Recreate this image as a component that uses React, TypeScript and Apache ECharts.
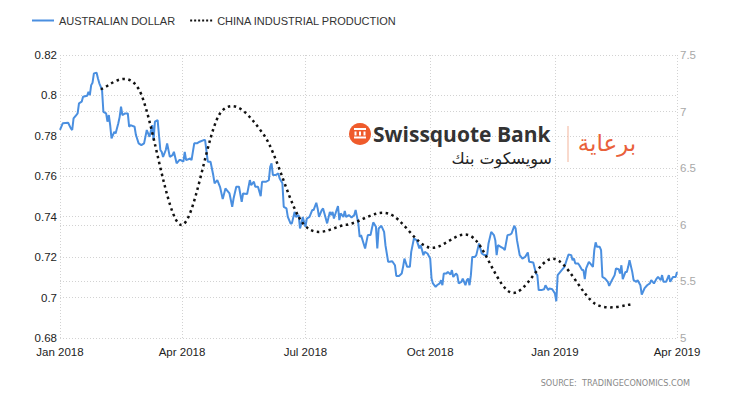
import React, { useEffect, useRef } from "react";
import * as echarts from "echarts";

const FONT = "Liberation Sans, Arial, sans-serif";

// Australian dollar (left axis)
const audDaily: [string, number][] = [
  ["2018-01-01", 0.7829], ["2018-01-03", 0.7862], ["2018-01-07", 0.7865], ["2018-01-09", 0.7837], ["2018-01-10", 0.7829],
  ["2018-01-11", 0.7886], ["2018-01-13", 0.7903], ["2018-01-14", 0.7911], ["2018-01-15", 0.7961], ["2018-01-17", 0.7969],
  ["2018-01-18", 0.7993], ["2018-01-21", 0.7998], ["2018-01-22", 0.8018], ["2018-01-23", 0.8002], ["2018-01-24", 0.8051],
  ["2018-01-25", 0.8063], ["2018-01-26", 0.8109], ["2018-01-28", 0.8112], ["2018-01-29", 0.8084], ["2018-01-30", 0.806],
  ["2018-02-01", 0.8027], ["2018-02-02", 0.7919], ["2018-02-04", 0.7911], ["2018-02-05", 0.787], ["2018-02-06", 0.7903],
  ["2018-02-07", 0.7853], ["2018-02-08", 0.7787], ["2018-02-10", 0.782], ["2018-02-11", 0.7812], ["2018-02-13", 0.7862],
  ["2018-02-14", 0.7894], ["2018-02-15", 0.7944], ["2018-02-16", 0.7903], ["2018-02-18", 0.7911], ["2018-02-20", 0.7911],
  ["2018-02-21", 0.7845], ["2018-02-22", 0.7853], ["2018-02-25", 0.7845], ["2018-02-26", 0.7804], ["2018-02-28", 0.7763],
  ["2018-03-02", 0.7754], ["2018-03-04", 0.7763], ["2018-03-06", 0.7829], ["2018-03-08", 0.7795], ["2018-03-10", 0.7853],
  ["2018-03-11", 0.7779], ["2018-03-12", 0.787], ["2018-03-14", 0.7878], ["2018-03-16", 0.773], ["2018-03-17", 0.7721],
  ["2018-03-18", 0.7696], ["2018-03-20", 0.773], ["2018-03-21", 0.7763], ["2018-03-23", 0.7696], ["2018-03-25", 0.7705],
  ["2018-03-26", 0.7721], ["2018-03-28", 0.7664], ["2018-03-30", 0.768], ["2018-03-31", 0.768], ["2018-04-02", 0.7672],
  ["2018-04-03", 0.7721], ["2018-04-04", 0.768], ["2018-04-07", 0.7688], ["2018-04-08", 0.768], ["2018-04-10", 0.7763],
  ["2018-04-12", 0.7763], ["2018-04-14", 0.7771], ["2018-04-17", 0.7779], ["2018-04-18", 0.7779], ["2018-04-20", 0.7672],
  ["2018-04-22", 0.7672], ["2018-04-24", 0.7606], ["2018-04-25", 0.7565], ["2018-04-27", 0.7581], ["2018-04-29", 0.7548],
  ["2018-05-01", 0.7487], ["2018-05-03", 0.754], ["2018-05-04", 0.7532], ["2018-05-06", 0.7515], ["2018-05-08", 0.7449],
  ["2018-05-09", 0.749], ["2018-05-11", 0.7548], ["2018-05-13", 0.7548], ["2018-05-15", 0.7474], ["2018-05-16", 0.7515],
  ["2018-05-19", 0.7512], ["2018-05-21", 0.7581], ["2018-05-22", 0.7556], ["2018-05-24", 0.7573], ["2018-05-25", 0.7548],
  ["2018-05-27", 0.7548], ["2018-05-29", 0.7502], ["2018-05-30", 0.7573], ["2018-06-02", 0.7573], ["2018-06-04", 0.7581],
  ["2018-06-05", 0.7647], ["2018-06-06", 0.7664], ["2018-06-07", 0.7606], ["2018-06-09", 0.7606], ["2018-06-11", 0.7614],
  ["2018-06-12", 0.7589], ["2018-06-14", 0.7565], ["2018-06-15", 0.7449], ["2018-06-17", 0.7441], ["2018-06-18", 0.7399],
  ["2018-06-20", 0.7367], ["2018-06-21", 0.7367], ["2018-06-23", 0.7424], ["2018-06-24", 0.7399], ["2018-06-26", 0.7408],
  ["2018-06-27", 0.7342], ["2018-06-28", 0.7367], ["2018-06-29", 0.7399], ["2018-07-01", 0.735], ["2018-07-02", 0.7391],
  ["2018-07-04", 0.7399], ["2018-07-06", 0.7433], ["2018-07-07", 0.7433], ["2018-07-09", 0.7469], ["2018-07-10", 0.7441],
  ["2018-07-11", 0.7399], ["2018-07-13", 0.7433], ["2018-07-14", 0.7441], ["2018-07-15", 0.7416], ["2018-07-17", 0.7367],
  ["2018-07-19", 0.7424], ["2018-07-20", 0.7408], ["2018-07-21", 0.7424], ["2018-07-22", 0.7391], ["2018-07-24", 0.7433],
  ["2018-07-25", 0.7452], ["2018-07-26", 0.7383], ["2018-07-27", 0.7416], ["2018-07-29", 0.7399], ["2018-07-30", 0.7429],
  ["2018-07-31", 0.7399], ["2018-08-02", 0.7408], ["2018-08-04", 0.7396], ["2018-08-06", 0.7408], ["2018-08-07", 0.7433],
  ["2018-08-09", 0.7367], ["2018-08-10", 0.73], ["2018-08-11", 0.7309], ["2018-08-14", 0.7243], ["2018-08-16", 0.7309],
  ["2018-08-18", 0.7309], ["2018-08-19", 0.7342], ["2018-08-20", 0.7372], ["2018-08-22", 0.735], ["2018-08-23", 0.7243],
  ["2018-08-24", 0.7342], ["2018-08-26", 0.7355], ["2018-08-28", 0.7325], ["2018-08-29", 0.7259], ["2018-08-31", 0.7177],
  ["2018-09-01", 0.7177], ["2018-09-03", 0.718], ["2018-09-05", 0.716], ["2018-09-06", 0.7107], ["2018-09-08", 0.7107],
  ["2018-09-10", 0.7119], ["2018-09-11", 0.7152], ["2018-09-12", 0.7193], ["2018-09-14", 0.7152], ["2018-09-16", 0.7152],
  ["2018-09-17", 0.7226], ["2018-09-19", 0.7292], ["2018-09-21", 0.7284], ["2018-09-23", 0.7243], ["2018-09-24", 0.7259],
  ["2018-09-26", 0.721], ["2018-09-27", 0.7226], ["2018-09-29", 0.7218], ["2018-10-01", 0.7193], ["2018-10-02", 0.7094],
  ["2018-10-03", 0.707], ["2018-10-05", 0.7053], ["2018-10-06", 0.7061], ["2018-10-08", 0.707], ["2018-10-09", 0.7086],
  ["2018-10-10", 0.7061], ["2018-10-11", 0.7119], ["2018-10-13", 0.7119], ["2018-10-14", 0.7127], ["2018-10-16", 0.7114],
  ["2018-10-17", 0.7136], ["2018-10-18", 0.7102], ["2018-10-20", 0.7119], ["2018-10-21", 0.7111], ["2018-10-22", 0.707],
  ["2018-10-24", 0.7078], ["2018-10-25", 0.7094], ["2018-10-27", 0.7061], ["2018-10-28", 0.7086], ["2018-10-29", 0.7094],
  ["2018-10-30", 0.7061], ["2018-10-31", 0.7111], ["2018-11-01", 0.7201], ["2018-11-03", 0.7201], ["2018-11-04", 0.721],
  ["2018-11-06", 0.7268], ["2018-11-07", 0.7243], ["2018-11-08", 0.7218], ["2018-11-10", 0.721], ["2018-11-12", 0.721],
  ["2018-11-13", 0.7268], ["2018-11-15", 0.7325], ["2018-11-17", 0.7309], ["2018-11-18", 0.7284], ["2018-11-19", 0.721],
  ["2018-11-20", 0.7259], ["2018-11-22", 0.7251], ["2018-11-24", 0.7243], ["2018-11-25", 0.7235], ["2018-11-27", 0.7309],
  ["2018-11-29", 0.7312], ["2018-11-30", 0.7317], ["2018-12-02", 0.7355], ["2018-12-03", 0.7342], ["2018-12-04", 0.7284],
  ["2018-12-06", 0.721], ["2018-12-08", 0.7193], ["2018-12-10", 0.7201], ["2018-12-12", 0.7223], ["2018-12-13", 0.7177],
  ["2018-12-16", 0.7174], ["2018-12-18", 0.7119], ["2018-12-19", 0.7111], ["2018-12-20", 0.7037], ["2018-12-22", 0.7037],
  ["2018-12-24", 0.7041], ["2018-12-25", 0.7061], ["2018-12-27", 0.7037], ["2018-12-28", 0.7045], ["2018-12-30", 0.7041],
  ["2019-01-01", 0.702], ["2019-01-02", 0.6982], ["2019-01-03", 0.7111], ["2019-01-06", 0.7136], ["2019-01-08", 0.7152],
  ["2019-01-10", 0.7193], ["2019-01-11", 0.7213], ["2019-01-13", 0.721], ["2019-01-14", 0.7185], ["2019-01-15", 0.7193],
  ["2019-01-16", 0.7169], ["2019-01-18", 0.7169], ["2019-01-19", 0.716], ["2019-01-21", 0.7136], ["2019-01-22", 0.7136],
  ["2019-01-23", 0.7091], ["2019-01-24", 0.7144], ["2019-01-26", 0.7177], ["2019-01-27", 0.7169], ["2019-01-29", 0.7152],
  ["2019-01-30", 0.7235], ["2019-01-31", 0.7273], ["2019-02-01", 0.7251], ["2019-02-03", 0.7251], ["2019-02-04", 0.7235],
  ["2019-02-05", 0.7102], ["2019-02-07", 0.7094], ["2019-02-09", 0.7078], ["2019-02-10", 0.7058], ["2019-02-12", 0.7086],
  ["2019-02-14", 0.7111], ["2019-02-15", 0.7144], ["2019-02-17", 0.714], ["2019-02-18", 0.7119], ["2019-02-19", 0.716],
  ["2019-02-20", 0.7091], ["2019-02-22", 0.7127], ["2019-02-23", 0.7127], ["2019-02-24", 0.7152], ["2019-02-25", 0.7185],
  ["2019-02-27", 0.7127], ["2019-02-28", 0.7086], ["2019-03-02", 0.7078], ["2019-03-03", 0.7086], ["2019-03-05", 0.7061],
  ["2019-03-06", 0.7015], ["2019-03-08", 0.7045], ["2019-03-10", 0.7061], ["2019-03-12", 0.707], ["2019-03-13", 0.7086],
  ["2019-03-15", 0.707], ["2019-03-17", 0.7094], ["2019-03-18", 0.7102], ["2019-03-20", 0.7086], ["2019-03-21", 0.7111],
  ["2019-03-22", 0.7078], ["2019-03-24", 0.7078], ["2019-03-26", 0.7111], ["2019-03-27", 0.7078], ["2019-03-29", 0.7102],
  ["2019-03-31", 0.7102], ["2019-04-01", 0.7127],
];

// China industrial production, % YoY (right axis)
const ipDates = [
  "2018-01-31", "2018-02-28", "2018-03-31", "2018-04-30", "2018-05-31", "2018-06-30", "2018-07-31",
  "2018-08-31", "2018-09-30", "2018-10-31", "2018-11-30", "2018-12-31", "2019-01-31", "2019-02-28",
];
const ipValues = [7.2, 7.2, 6.0, 7.0, 6.8, 6.0, 6.0, 6.1, 5.8, 5.9, 5.4, 5.7, 5.3, 5.3];

const xTickDates = ["2018-01-01", "2018-04-01", "2018-07-01", "2018-10-01", "2019-01-01", "2019-04-01"];
const xTickLabels = ["Jan 2018", "Apr 2018", "Jul 2018", "Oct 2018", "Jan 2019", "Apr 2019"];

const seriesNames = ["AUSTRALIAN DOLLAR", "CHINA INDUSTRIAL PRODUCTION"];

const ts = (s: string) => {
  const [y, m, d] = s.split("-").map(Number);
  return new Date(y, m - 1, d).getTime();
};

const IP_LINE = { color: "#111", width: 2.5, dash: [2.5, 3.5] };

export default function App() {
  const ref = useRef<HTMLDivElement>(null);
  useEffect(() => {
    const chart = echarts.init(ref.current!, null, { renderer: "svg" });
    const tickTs = xTickDates.map(ts);
    const grid = { color: "#d2d2d2", type: [1, 2] as number[], width: 1 };
    const ipData = ipDates.map((d, i) => [ts(d), ipValues[i]]);

    // Catmull-Rom spline through the data points (coordinates from the axes)
    const renderSpline = (params: any, api: any) => {
      if (params.dataIndex !== 0) return null;
      const pts = ipData.map((p) => api.coord(p));
      const n = pts.length;
      let d = `M${pts[0][0]},${pts[0][1]}`;
      for (let i = 0; i < n - 1; i++) {
        const p0 = pts[Math.max(i - 1, 0)];
        const p1 = pts[i];
        const p2 = pts[i + 1];
        const p3 = pts[Math.min(i + 2, n - 1)];
        const c1x = p1[0] + (p2[0] - p0[0]) / 6;
        const c1y = p1[1] + (p2[1] - p0[1]) / 6;
        const c2x = p2[0] - (p3[0] - p1[0]) / 6;
        const c2y = p2[1] - (p3[1] - p1[1]) / 6;
        d += ` C${c1x},${c1y} ${c2x},${c2y} ${p2[0]},${p2[1]}`;
      }
      return {
        type: "path",
        shape: { pathData: d },
        style: { fill: "none", stroke: IP_LINE.color, lineWidth: IP_LINE.width, lineDash: IP_LINE.dash },
      };
    };

    chart.setOption({
      animation: false,
      backgroundColor: "#fff",
      textStyle: { fontFamily: FONT },
      grid: { left: 60, right: 53, top: 55, bottom: 62, containLabel: false },
      legend: {
        left: 26,
        top: 10,
        itemWidth: 22,
        itemHeight: 10,
        itemGap: 14,
        itemStyle: { opacity: 0 },
        textStyle: { fontSize: 11, color: "#333", fontFamily: FONT },
        data: seriesNames,
      },
      xAxis: {
        type: "value",
        min: tickTs[0],
        max: tickTs[tickTs.length - 1],
        axisLine: { show: false },
        axisTick: { show: false, customValues: tickTs },
        axisLabel: {
          customValues: tickTs,
          color: "#222",
          fontSize: 11.5,
          margin: 8,
          fontFamily: FONT,
          formatter: (v: number) => {
            let best = 0;
            tickTs.forEach((t, i) => {
              if (Math.abs(t - v) < Math.abs(tickTs[best] - v)) best = i;
            });
            return xTickLabels[best];
          },
        },
        splitLine: { show: true, lineStyle: grid },
      },
      yAxis: [
        {
          type: "value",
          position: "left",
          min: 0.68,
          max: 0.82,
          interval: 0.02,
          axisLine: { show: false },
          axisTick: { show: false },
          axisLabel: { color: "#222", fontSize: 11.5, margin: 3, fontFamily: FONT },
          splitLine: { show: true, lineStyle: grid },
        },
        {
          type: "value",
          position: "right",
          min: 5,
          max: 7.5,
          interval: 0.5,
          axisLine: { show: false },
          axisTick: { show: false },
          axisLabel: { color: "#a8a8a8", fontSize: 11.5, margin: 3, fontFamily: FONT },
          splitLine: { show: true, lineStyle: grid },
        },
      ],
      series: [
        {
          name: seriesNames[0],
          type: "line",
          yAxisIndex: 0,
          symbol: "none",
          showSymbol: false,
          lineStyle: { color: "#4a8fe0", width: 2 },
          itemStyle: { color: "#4a8fe0" },
          data: audDaily.map(([d, v]) => [ts(d), v]),
          z: 2,
        },
        {
          // legend entry for the dotted series
          name: seriesNames[1],
          type: "line",
          yAxisIndex: 1,
          symbol: "none",
          lineStyle: { color: IP_LINE.color, width: 2, type: [2, 2] },
          itemStyle: { color: IP_LINE.color },
          data: [],
        },
        {
          name: "ip-curve",
          type: "custom",
          yAxisIndex: 1,
          renderItem: renderSpline,
          encode: { x: 0, y: 1 },
          data: ipData,
          z: 3,
          silent: true,
        },
      ],
      graphic: [
        { type: "circle", shape: { cx: 360, cy: 134, r: 11 }, style: { fill: "#ef5b2b" }, z: 10 },
        { type: "rect", shape: { x: 354, y: 128, width: 12, height: 2 }, style: { fill: "#fff" }, z: 11 },
        { type: "rect", shape: { x: 354.5, y: 131.5, width: 2, height: 4 }, style: { fill: "#fff" }, z: 11 },
        { type: "rect", shape: { x: 359, y: 131.5, width: 2, height: 4 }, style: { fill: "#fff" }, z: 11 },
        { type: "rect", shape: { x: 363.5, y: 131.5, width: 2, height: 4 }, style: { fill: "#fff" }, z: 11 },
        { type: "rect", shape: { x: 354, y: 136.5, width: 12, height: 2 }, style: { fill: "#fff" }, z: 11 },
        {
          type: "text",
          x: 373,
          y: 134,
          z: 10,
          style: {
            text: "Swissquote Bank",
            fontSize: 21,
            fontWeight: "bold",
            fontFamily: "Open Sans, sans-serif",
            fill: "#333",
            verticalAlign: "middle",
          },
        },
        {
          type: "text",
          x: 552,
          y: 158,
          z: 10,
          style: {
            text: "سويسكوت بنك",
            fontSize: 16,
            fill: "#222",
            align: "right",
            verticalAlign: "middle",
            fontFamily: "DejaVu Sans, sans-serif",
          },
        },
        {
          type: "line",
          z: 10,
          shape: { x1: 568, y1: 126, x2: 568, y2: 162 },
          style: { stroke: "#f3b49b", lineWidth: 1 },
        },
        {
          type: "text",
          x: 607,
          y: 143,
          z: 10,
          style: {
            text: "برعاية",
            fontSize: 23,
            fill: "#e9603a",
            align: "center",
            verticalAlign: "middle",
            fontFamily: "DejaVu Sans, sans-serif",
          },
        },
        {
          type: "text",
          x: 690,
          y: 383,
          z: 10,
          style: {
            text: "SOURCE:  TRADINGECONOMICS.COM",
            fontSize: 9,
            fill: "#888",
            align: "right",
            verticalAlign: "middle",
            fontFamily: "Liberation Sans Narrow, DejaVu Sans Condensed, sans-serif",
          },
        },
      ],
    });
    return () => chart.dispose();
  }, []);
  return <div ref={ref} style={{ position: "fixed", left: 0, top: 0, width: 730, height: 400 }} />;
}
